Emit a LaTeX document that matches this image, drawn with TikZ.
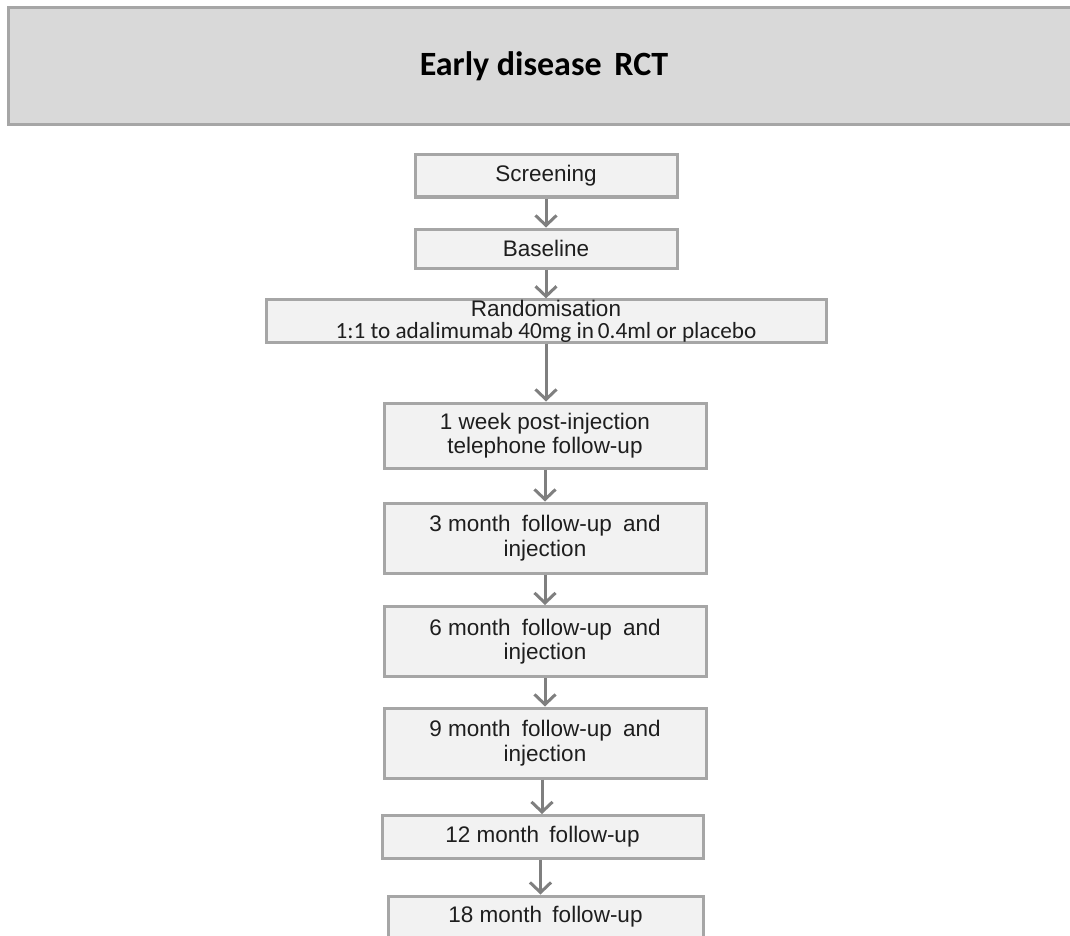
\documentclass[tikz,border=0pt]{standalone}
\usepackage{fontspec}
\setmainfont{Liberation Sans}
\newfontfamily\calibri{Carlito}
\usetikzlibrary{arrows.meta}
\definecolor{bannerfill}{HTML}{D9D9D9}
\definecolor{bannerline}{HTML}{A6A6A6}
\definecolor{boxfill}{HTML}{F2F2F2}
\definecolor{boxline}{HTML}{A6A6A6}
\definecolor{arrowcol}{HTML}{7F7F7F}
\definecolor{txt}{HTML}{1E1E1E}
\begin{document}
\begin{tikzpicture}[x=1pt,y=1pt,
  bannerbox/.style={draw=bannerline, line width=3pt, fill=bannerfill, inner sep=0pt,
    text=black, font=\calibri\bfseries\fontsize{34}{38}\selectfont},
  stepbox/.style={draw=boxline, line width=3pt, fill=boxfill, inner sep=0pt, align=center,
    font=\fontsize{22.5}{24.5}\selectfont, text=txt},
  arr/.style={draw=arrowcol, line width=3pt,
    -{Straight Barb[length=10pt,width=21pt,line width=3pt]}}]
\useasboundingbox (0,0) rectangle (1070,-936);

\node[bannerbox, minimum width=1072pt, minimum height=117pt] (banner) at (544,-66.5) {Early disease\hspace{5pt} RCT};

\node[stepbox, minimum width=262pt, minimum height=42pt] (scr) at (546,-176) {Screening};
\node[stepbox, minimum width=262pt, minimum height=39pt] (base) at (546,-248.5) {Baseline};
\node[stepbox, minimum width=560pt, minimum height=42pt] (rand) at (546,-321)
  {Randomisation\\[-2.5pt]{\calibri\fontsize{23.2}{24}\selectfont 1:1 to adalimumab 40mg in\,0.4ml or placebo}};
\node[stepbox, minimum width=322pt, minimum height=65pt] (wk1) at (545,-435.5)
  {1 week post-injection\\telephone follow-up};
\node[stepbox, minimum width=322pt, minimum height=70pt] (m3) at (545,-538)
  {3 month\hspace{5pt} follow-up\hspace{5pt} and\\injection};
\node[stepbox, minimum width=322pt, minimum height=70pt] (m6) at (545,-641.5)
  {6 month\hspace{5pt} follow-up\hspace{5pt} and\\injection};
\node[stepbox, minimum width=322pt, minimum height=70pt] (m9) at (545,-743)
  {9 month\hspace{5pt} follow-up\hspace{5pt} and\\injection};
\node[stepbox, minimum width=321pt, minimum height=43pt] (m12) at (542.5,-837)
  {12 month\hspace{4pt} follow-up};
\node[stepbox, minimum width=315pt, minimum height=42pt] (m18) at (545.5,-917)
  {18 month\hspace{4pt} follow-up};

\draw[arr] (scr.south) -- (scr.south |- base.north);
\draw[arr] (base.south) -- (base.south |- rand.north);
\draw[arr] (rand.south) -- (rand.south |- wk1.north);
\draw[arr] (wk1.south) -- (wk1.south |- m3.north);
\draw[arr] (m3.south) -- (m3.south |- m6.north);
\draw[arr] (m6.south) -- (m6.south |- m9.north);
\draw[arr] ([xshift=-3pt]m9.south) -- ([xshift=-3pt]m9.south |- m12.north);
\draw[arr] ([xshift=-2pt]m12.south) -- ([xshift=-2pt]m12.south |- m18.north);
\end{tikzpicture}
\end{document}
